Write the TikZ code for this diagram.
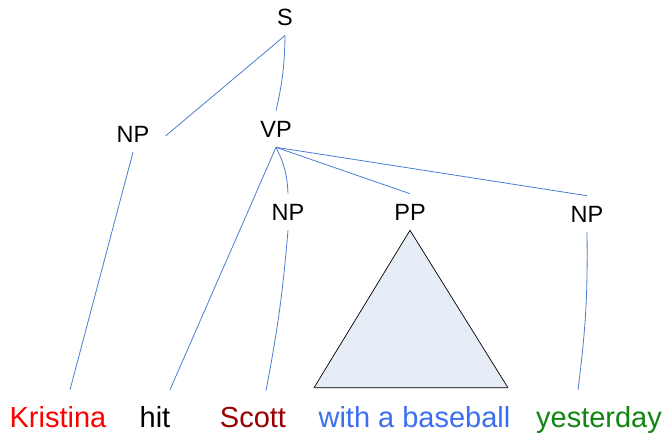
\documentclass[tikz,border=0pt]{standalone}
\usepackage{fontspec}
\setmainfont{Liberation Sans}
\usetikzlibrary{calc}
\definecolor{linkblue}{RGB}{74,125,210}
\definecolor{trifill}{RGB}{230,237,247}
\definecolor{scottred}{RGB}{153,0,0}
\definecolor{withblue}{RGB}{60,110,240}
\definecolor{yestgreen}{RGB}{17,133,17}
\begin{document}
\begin{tikzpicture}[x=1pt,y=-1pt,
  lab/.style={inner sep=10pt, font=\fontsize{23.5}{28}\selectfont},
  word/.style={anchor=base, inner xsep=0pt, inner ysep=0pt, font=\fontsize{29}{34}\selectfont},
  link/.style={draw=linkblue, line width=0.8pt}]
\useasboundingbox (0,0) rectangle (665,437);
% labels
\node[lab] (s) at (285,17) {S};
\node[lab] (np1) at (133,134) {NP};
\node[lab] (vp) at (276,129) {VP};
\node[lab] (np2) at (288,212) {NP};
\node[lab] (pp) at (410,212) {PP};
\node[lab] (np3) at (587,214) {NP};
% words
\node[word,text=red] (w1) at (58,427) {Kristina};
\node[word,text=black] (w2) at (155,427) {hit};
\node[word,text=scottred] (w3) at (253,427) {Scott};
\node[word,text=withblue] (w4) at (414.5,427) {with a baseball};
\node[word,text=yestgreen] (w5) at (599,427) {yesterday};
% connector ends
\coordinate (np1r) at ($(np1.east)+(6,2)$);
\coordinate (w1t) at ($(w1.north)+(12,-16)$);
\coordinate (w2t) at ($(w2.north)+(15,-16)$);
\coordinate (w3t) at ($(w3.north)+(13,-16)$);
\coordinate (w5t) at ($(w5.north)+(-21,-16)$);
\coordinate (tl) at ($(w4.north)+(-100.5,-18)$);
\coordinate (tr) at ($(w4.north)+(93.5,-18)$);
% triangle
\filldraw[fill=trifill, draw=black, line width=0.7pt] (pp.south) -- (tr) -- (tl) -- cycle;
\draw[line width=1.4pt, draw=black!70] (tl) -- (tr);
% connectors
\draw[link] (s.south) -- (np1r);
\draw[link] (s.south) to[bend left=6] (vp.north);
\draw[link] (np1.south) -- (w1t);
\draw[link] (vp.south) -- (w2t);
\draw[link] (vp.south) to[bend left=12] (np2.north);
\draw[link] (vp.south) -- (pp.north);
\draw[link] (vp.south) -- (np3.north);
\draw[link] (np2.south) to[bend left=3] (w3t);
\draw[link] (np3.south) to[bend left=4] (w5t);
\end{tikzpicture}
\end{document}
